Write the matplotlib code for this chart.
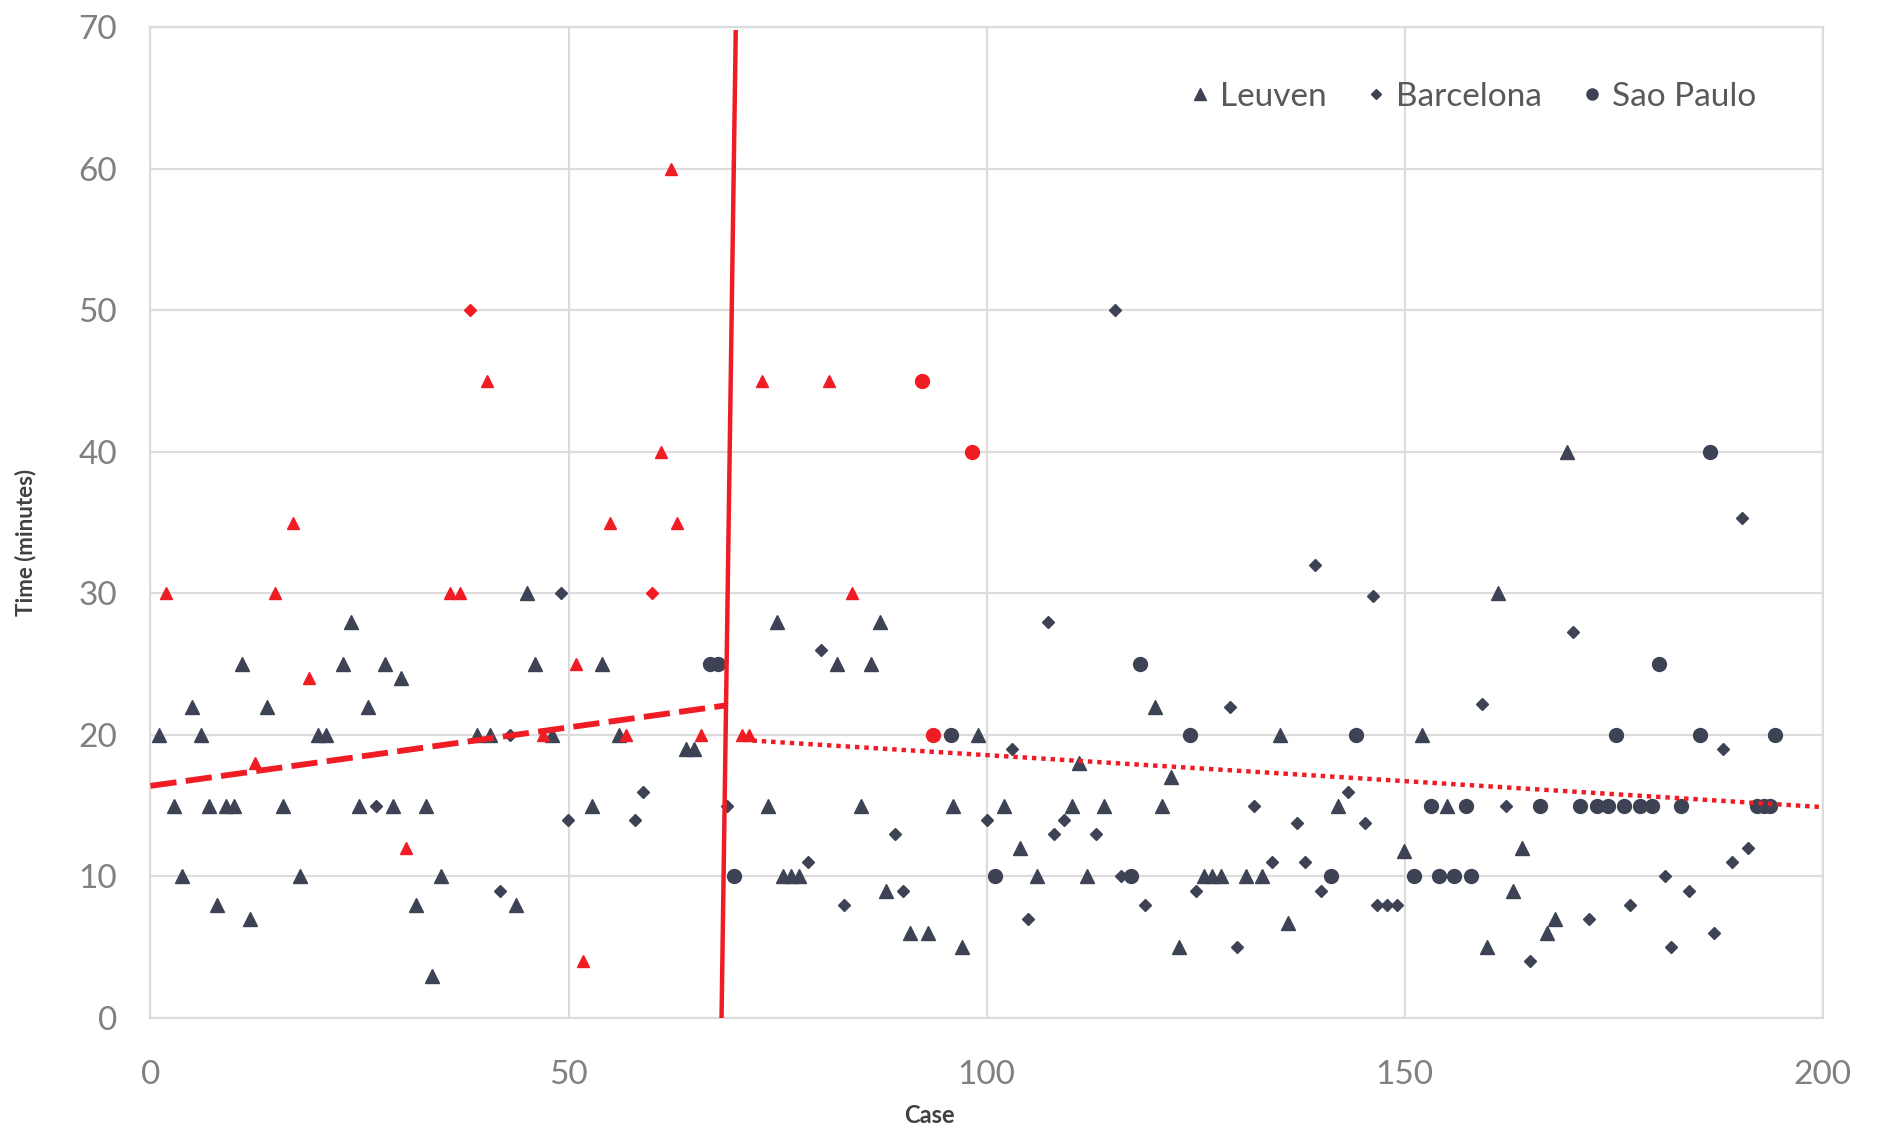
import matplotlib
matplotlib.use("Agg")
import matplotlib.pyplot as plt
from matplotlib.lines import Line2D

# ---------------- data ----------------
leuven_x = [1, 2.8, 3.8, 5, 6, 7, 7.9, 9, 10, 11, 11.9, 13.9, 15.9, 17.9, 20, 21, 23, 24, 24.9,
            26, 28, 29, 30, 31.8, 33, 33.7, 34.7, 39, 40.6, 43.7, 45, 46, 48, 52.8, 54, 56, 64, 65,
            73.8, 74.9, 75.6, 76.6, 77.6, 82.1, 85, 86.2, 87.2, 88, 90.9, 93, 96, 97, 99, 102.1,
            104, 106, 110.2, 111, 112, 114.1, 120.1, 121, 122.1, 123, 126, 127, 128, 131, 133,
            135.1, 136, 142, 149.9, 152.1, 155.1, 159.9, 161.2, 163, 164, 167, 168, 169.4]
leuven_y = [20, 15, 10, 22, 20, 15, 8, 15, 15, 25, 7, 22, 15, 10, 20, 20, 25, 28, 15,
            22, 25, 15, 24, 8, 15, 3, 10, 20, 20, 8, 30, 25, 20, 15, 25, 20, 19, 19,
            15, 28, 10, 10, 10, 25, 15, 25, 28, 9, 6, 6, 15, 5, 20, 15,
            12, 10, 15, 18, 10, 15, 22, 15, 17, 5, 10, 10, 10, 10, 10,
            20, 6.7, 15, 11.8, 20, 15, 5, 30, 9, 12, 6, 7, 40]

barcelona_x = [27, 41.8, 43, 49.1, 49.9, 58, 58.9, 69, 78.7, 80.2, 82.9, 89, 90, 100, 103, 105,
               107.3, 108.1, 109.2, 113.1, 115.4, 116.1, 119, 125, 129.1, 129.9, 132, 134.1,
               137.1, 138.1, 139.3, 140, 143.2, 145.2, 146.2, 146.7, 147.9, 149.1, 159.2, 162.1,
               165, 170.1, 172, 177, 181.1, 181.9, 184, 187, 188.1, 189.1, 190.3, 191.1]
barcelona_y = [15, 9, 20, 30, 14, 14, 16, 15, 11, 26, 8, 13, 9, 14, 19, 7,
               28, 13, 14, 13, 50, 10, 8, 9, 22, 5, 15, 11,
               13.8, 11, 32, 9, 16, 13.8, 29.8, 8, 8, 8, 22.2, 15,
               4, 27.3, 7, 8, 10, 5, 9, 6, 19, 11, 35.3, 12]

saopaulo_x = [66.9, 67.9, 69.8, 95.8, 101, 117.3, 118.4, 124.3, 141.2, 144.2, 151.1, 153.1, 154.1,
              155.9, 157.3, 157.9, 166.2, 171, 173, 174.3, 175.3, 176.2, 178.2, 179.6, 180.4,
              183.1, 185.3, 186.5, 192.1, 193, 193.7, 194.3]
saopaulo_y = [25, 25, 10, 20, 10, 10, 25, 20, 10, 20, 10, 15, 10,
              10, 15, 10, 15, 15, 15, 15, 20, 15, 15, 15, 25,
              15, 20, 40, 15, 15, 15, 20]

# outliers (highlighted in red)
leuven_out_x = [1.9, 12.5, 14.9, 17, 18.9, 30.6, 35.8, 37, 40.2, 47, 50.9, 51.7, 55, 56.9, 61,
                62.3, 63, 65.9, 70.8, 71.6, 73.1, 81.2, 83.9]
leuven_out_y = [30, 18, 30, 35, 24, 12, 30, 30, 45, 20, 25, 4, 35, 20, 40,
                60, 35, 20, 20, 20, 45, 45, 30]
barcelona_out_x = [38.2, 60]
barcelona_out_y = [50, 30]
saopaulo_out_x = [92.3, 93.6, 98.2]
saopaulo_out_y = [45, 20, 40]

# trend lines and split line (end points)
trend_left_x = [0, 69]
trend_left_y = [16.4, 22.1]
trend_right_x = [72, 200]
trend_right_y = [19.6, 14.9]
split_x = [68.3, 70.0]
split_y = [0, 69.8]

x_ticks = [0, 50, 100, 150, 200]
y_ticks = [0, 10, 20, 30, 40, 50, 60, 70]

# ---------------- style ----------------
plt.rcParams['font.family'] = ['Lato', 'DejaVu Sans']
DARK = '#3d4354'
RED = '#f01c24'
GRID = '#dcdcdc'
TICK = '#808080'

fig = plt.figure(figsize=(18.81, 11.33), dpi=100)
ax = fig.add_axes([0.080, 0.1015, 0.889, 0.8745])

ax.plot(leuven_x, leuven_y, ls='none', marker='^', ms=9.5, color=DARK, zorder=3)
ax.plot(barcelona_x, barcelona_y, ls='none', marker='D', ms=6, color=DARK, zorder=3)
ax.plot(saopaulo_x, saopaulo_y, ls='none', marker='o', ms=10, color=DARK, zorder=3)

ax.plot(leuven_out_x, leuven_out_y, ls='none', marker='^', ms=8, color=RED, zorder=4)
ax.plot(barcelona_out_x, barcelona_out_y, ls='none', marker='D', ms=6, color=RED, zorder=4)
ax.plot(saopaulo_out_x, saopaulo_out_y, ls='none', marker='o', ms=10, color=RED, zorder=4)

ax.plot(trend_left_x, trend_left_y, color=RED, lw=4.2, dashes=(4.5, 1.6), zorder=5)
ax.plot(trend_right_x, trend_right_y, color=RED, lw=3.2, dashes=(1, 1.1), zorder=5)
ax.plot(split_x, split_y, color=RED, lw=3.2, zorder=6, solid_capstyle='butt')

ax.set_xlim(0, 200)
ax.set_ylim(0, 70)
ax.set_xticks(x_ticks)
ax.set_yticks(y_ticks)
ax.grid(True, color=GRID, lw=1.6, zorder=0)
ax.set_axisbelow(True)
for s in ax.spines.values():
    s.set_color(GRID)
    s.set_linewidth(1.6)
ax.tick_params(axis='both', length=0, colors=TICK, labelsize=24)
ax.tick_params(axis='x', pad=30)
ax.tick_params(axis='y', pad=24)

ax.set_xlabel('Case', fontsize=17, color='#404040', fontweight='bold')
ax.set_ylabel('Time (minutes)', fontsize=16, color='#404040', fontweight='bold')
ax.xaxis.set_label_coords(0.466, -0.087)
ax.yaxis.set_label_coords(-0.068, 0.48)

handles = [Line2D([], [], ls='none', marker='^', ms=8, color=DARK),
           Line2D([], [], ls='none', marker='D', ms=5, color=DARK),
           Line2D([], [], ls='none', marker='o', ms=8, color=DARK)]
leg = ax.legend(handles, ['Leuven', 'Barcelona', 'Sao Paulo'], loc='center',
                bbox_to_anchor=(0.789, 0.930), ncol=3, frameon=False, fontsize=24,
                handletextpad=0.1, columnspacing=1.0, handlelength=1.0)
for t in leg.get_texts():
    t.set_color('#595959')

fig.savefig('out.png', dpi=100, facecolor='white')
